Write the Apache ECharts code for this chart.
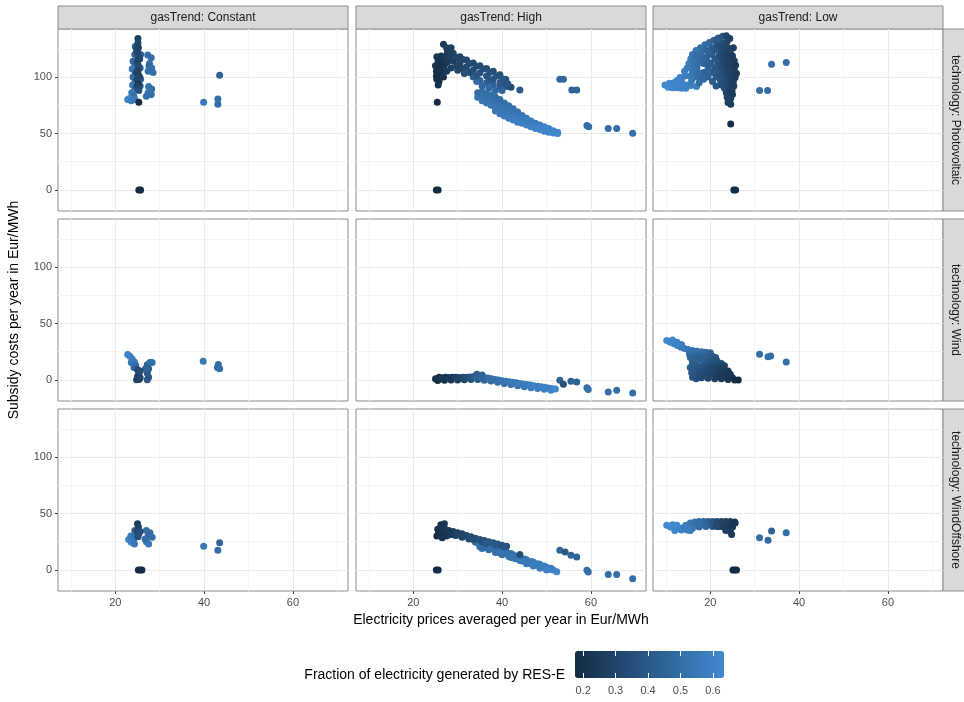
<!DOCTYPE html>
<html><head><meta charset="utf-8">
<script src="https://cdn.jsdelivr.net/npm/echarts@6.0.0/dist/echarts.min.js"></script>
<style>html,body{margin:0;padding:0;background:#fff}#c{width:964px;height:702px}</style>
</head><body><div id="c"></div>
<script>
// facet labels
const gasTrends = ['Constant', 'High', 'Low'];
const technologies = ['Photovoltaic', 'Wind', 'WindOffshore'];
// tick labels
const xTicks = [20, 40, 60];
const yTicks = [0, 50, 100];
const fractionTicks = [0.2, 0.3, 0.4, 0.5, 0.6];
// point = [electricity price, subsidy cost, RES-E fraction]
const pvConstant = [
  [24.5,127,0.4],[25.7,120,0.42],[24.4,120,0.45],[24.0,114,0.5],[24.4,111,0.45],[25.6,108,0.45],[23.8,107,0.55],
  [24.5,104,0.45],[24.0,100,0.5],[25.7,98,0.45],[24.5,96,0.45],[23.9,93,0.55],[25.6,92,0.4],[24.4,89,0.5],
  [23.7,86,0.55],[24.2,83,0.5],[23.2,81,0.6],[22.8,80,0.6],[23.6,79,0.58],[24.4,80,0.55],
  [27.3,119.5,0.5],[28.1,117,0.5],[27.7,112,0.52],[27.6,110,0.48],[28.2,108,0.5],[27.4,105,0.5],[28.5,104,0.5],
  [27.5,91.5,0.52],[28.2,89.5,0.5],[27.4,86,0.52],[28.1,84.5,0.5],[27.0,83,0.5],
  [25.1,134,0.28],[25.1,130,0.3],[25.2,126,0.28],[24.8,124,0.3],[25.0,122,0.3],[25.2,118,0.32],[25.5,116,0.32],
  [25.0,114,0.3],[25.2,110,0.33],[25.1,106,0.3],[24.8,104,0.3],[25.2,102,0.28],[25.5,100,0.3],[25.0,98,0.3],
  [25.2,94,0.25],[24.9,92,0.28],[25.1,90,0.3],[25.3,88,0.35],[25.3,77.6,0.18],
  [25.3,0,0.18],[25.7,0,0.18],
  [39.9,77.6,0.55],[43.5,101.5,0.45],[43.1,80.5,0.5],[43.1,76,0.5]
];
const pvHigh = [
  [34.5,86,0.5],[34.5,82,0.52],[35.5,87,0.5],[35.5,83,0.52],[35.5,79,0.54],[36.5,85,0.5],[36.5,81,0.52],[36.5,77,0.54],
  [37.5,84,0.5],[37.5,79.5,0.52],[37.5,75,0.55],[38.5,82,0.5],[38.5,77.5,0.52],[38.5,73,0.54],[38.5,70,0.56],
  [39.5,80,0.5],[39.5,75.5,0.52],[39.5,71,0.54],[39.5,67.5,0.56],[40.5,77,0.5],[40.5,73,0.52],[40.5,69,0.55],[40.5,65.5,0.57],
  [41.5,74.5,0.52],[41.5,70.5,0.54],[41.5,66.5,0.56],[41.5,63.5,0.57],[42.5,72,0.52],[42.5,68,0.54],[42.5,64.5,0.56],[42.5,62,0.58],
  [43.5,69,0.53],[43.5,65.5,0.55],[43.5,62,0.57],[43.5,60,0.58],[44.5,66,0.54],[44.5,62.5,0.56],[44.5,59,0.58],
  [45.5,63.5,0.55],[45.5,60,0.57],[45.5,57.5,0.59],[46.5,61,0.56],[46.5,58,0.58],[46.5,56,0.6],
  [47.5,59,0.57],[47.5,56,0.59],[47.5,54.5,0.6],[48.5,57.5,0.58],[48.5,55,0.6],[48.5,53.5,0.61],
  [49.5,56,0.59],[49.5,53.5,0.6],[49.5,52,0.62],[50.5,54.5,0.6],[50.5,52,0.61],[50.5,51,0.62],
  [51.5,52.5,0.61],[51.5,50.5,0.62],[52.5,51,0.62],[52.5,50,0.63],
  [33.5,100,0.45],[35,97,0.45],[36.5,95,0.45],[38,93,0.45],[39.5,91.5,0.42],[41,91.5,0.4],
  [34.3,96,0.48],[35.5,92,0.48],[37,90,0.48],[38.5,88,0.48],[40,88,0.46],
  [42.0,91,0.33],[44.0,88.5,0.4],
  [29.8,110,0.29],[31.2,107,0.31],[32.7,104,0.33],[34.2,101,0.38],[37.2,97.5,0.4],[40.5,94.5,0.38],
  [29.0,121,0.3],[30.5,118,0.3],[32,115,0.32],[33.5,112.5,0.33],[35,110,0.33],[36.5,107.5,0.35],[38,105,0.35],
  [39.5,102,0.36],[40.8,98,0.37],[41.3,94,0.38],[29,114,0.28],[30.5,112,0.3],[32,109,0.32],[33.5,106,0.34],
  [35,103.5,0.36],[36.5,101,0.37],[38,98,0.38],[39.5,95,0.4],[28.5,108,0.28],[30,106,0.3],[31.5,103,0.35],
  [29.8,117,0.3],[31.2,115.5,0.31],[32.7,112,0.32],[34.2,109.5,0.33],[35.7,107,0.34],[37.2,104,0.36],[38.7,101,0.37],
  [40,98.5,0.38],[27.7,122,0.27],[28.5,126,0.27],
  [26.8,129,0.25],[27.5,126,0.27],[28.3,123,0.28],[25.3,118,0.22],[26.3,118.5,0.22],[27.3,118,0.25],[28.3,117,0.28],
  [25.6,114,0.2],[26.6,114,0.22],[27.6,113,0.25],
  [25.0,110,0.22],[26.0,110,0.2],[27.0,110.5,0.22],[25.2,105,0.2],[26.3,105.5,0.22],[27.5,105,0.25],
  [25.2,101,0.2],[26.2,101,0.2],[26.8,100,0.22],
  [25.3,98,0.2],[25.8,96,0.2],[25.6,93,0.2],[25.4,77.6,0.18],
  [25.2,0,0.18],[25.6,0,0.18],
  [53.0,98,0.47],[53.8,98,0.47],[55.7,88.5,0.45],[56.8,88.5,0.45],[59.1,57,0.5],[59.5,56,0.5],
  [63.9,54.5,0.5],[65.8,54.5,0.5],[69.4,50.2,0.5]
];
const pvLow = [
  [9.8,93,0.63],[10.8,94.5,0.63],[11.8,95,0.62],[12.8,95,0.62],[13.8,94,0.6],[14.8,93,0.6],[15.6,92.5,0.58],
  [10.5,91,0.63],[11.5,90.5,0.62],[12.5,90.5,0.62],[13.5,90,0.61],[14.5,90,0.6],[16.9,91.5,0.58],
  [12.5,97,0.62],[13.2,99.5,0.6],
  [13.5,98,0.6],[14.3,101,0.58],[14.2,105,0.58],[14.8,108,0.57],[15.2,112,0.56],[15.6,116,0.55],[16.0,120,0.55],
  [16.8,123.5,0.54],[17.8,126,0.52],[18.8,128.5,0.5],[19.8,130.5,0.48],[20.8,132.5,0.45],[21.8,134.5,0.42],
  [22.8,136,0.38],[23.6,136.5,0.3],
  [15.8,97,0.55],[16.8,100,0.52],[16.0,104,0.53],[17.0,108,0.5],[16.5,112,0.52],[17.5,116,0.5],[17.8,120,0.48],
  [18.8,124,0.48],[18.5,112,0.47],[18.5,104,0.47],[19.2,118,0.45],[19.5,108,0.44],[17.5,95,0.5],[18.5,98,0.48],
  [19.5,100,0.45],[20.5,104,0.42],[20.2,112,0.42],[20.4,120,0.42],[20.3,126,0.42],[21.5,129,0.38],
  [20.5,96,0.42],[21.3,92,0.4],
  [17.2,104,0.5],[18,100,0.48],[19,104,0.46],[19.5,113,0.44],[18.3,116,0.47],[19.5,123,0.45],[21,124,0.4],
  [21,116,0.4],[21,108,0.4],[21.3,100,0.4],[16.2,108,0.53],[15.5,101,0.56],[17.2,112,0.5],[16.5,116,0.52],
  [17,119.5,0.5],[22.5,130.5,0.35],[21.5,133,0.4],
  [22.0,127,0.35],[23.0,126.5,0.32],[24.0,126,0.3],[25.2,126,0.28],[24.4,134,0.28],[23.8,131.5,0.3],
  [22.5,123,0.33],[23.5,122.5,0.3],[24.5,122,0.28],
  [22.0,119,0.35],[23.0,119,0.3],[24.0,119,0.28],[25.0,118.5,0.25],
  [22.5,115,0.34],[23.5,115,0.3],[24.5,114.5,0.28],[25.4,114.5,0.26],
  [21.8,112,0.38],[22.8,111.5,0.32],[23.8,111,0.28],[25.0,111,0.27],[25.7,110.5,0.25],
  [22.5,107.5,0.34],[23.5,107,0.3],[24.5,107,0.28],[25.4,106.5,0.26],
  [22.0,104,0.38],[23.0,103.5,0.33],[24.0,103,0.3],[25.0,103,0.28],[25.9,103,0.25],
  [22.7,100,0.35],[23.7,99.5,0.31],[24.7,99.5,0.28],[25.6,99.5,0.26],
  [22.3,97,0.38],[23.3,96.5,0.33],[24.3,96,0.3],[25.2,96,0.27],
  [22.5,93,0.36],[23.7,93,0.32],[24.6,92.5,0.28],[25.3,92,0.26],
  [23.2,90,0.35],[24.2,89,0.3],[24.9,88,0.27],[23.6,86,0.3],[24.3,85,0.28],[25,84.5,0.26],
  [23.8,82,0.3],[24.6,81,0.27],[24.0,77.5,0.28],[24.6,76,0.26],
  [24.6,58.5,0.2],[25.3,0,0.18],[25.7,0,0.18],
  [33.8,111.2,0.5],[37.1,112.9,0.5],[31.1,88,0.5],[32.9,88,0.5]
];
const windConstant = [
  [22.8,22.5,0.6],[23.3,21,0.6],[23.8,18.5,0.58],[24.3,16,0.55],[23.6,15.5,0.55],[24.6,13,0.5],[24.2,11,0.48],
  [27.2,13.5,0.45],[27.8,15.5,0.5],[28.3,15.5,0.5],[27.5,10,0.42],[27.2,6,0.4],[27.5,2.5,0.4],[27.2,0.3,0.38],[26.8,10,0.45],
  [25.0,9,0.32],[25.3,6,0.3],[25.0,3,0.28],[25.3,0.5,0.25],[24.8,0.3,0.28],[25.6,2,0.3],[25.6,8,0.35],
  [39.8,16.5,0.55],[43.2,13.8,0.5],[43.5,10,0.5],[43.0,11,0.5]
];
const windHigh = [
  [25.5,-0.5,0.18],[27.0,-0.3,0.2],[28.5,0,0.22],[30,0,0.25],[31.5,0.2,0.3],[33,0.5,0.35],[34.5,0.5,0.4],[36,-0.3,0.45],
  [37.5,-1,0.48],[39,-2,0.5],[40.5,-3,0.5],[42,-4,0.52],[43.5,-5,0.54],[45,-6,0.56],[46.5,-6.8,0.57],[48,-7.5,0.58],
  [49.5,-8.2,0.59],[51,-9,0.6],
  [25.0,1,0.2],[25.8,2.5,0.2],[26.5,2,0.22],[27.3,2.5,0.22],[28.0,2.3,0.24],[28.8,2.5,0.25],[29.6,2.5,0.27],[30.4,2.3,0.3],
  [31.2,2.5,0.32],[32.0,2.4,0.35],[32.8,2.6,0.38],[33.6,3.0,0.42],[34.4,3.2,0.45],[35.2,2.6,0.47],[36.0,2.0,0.48],
  [36.8,1.8,0.5],[37.6,1.2,0.5],[38.4,0.5,0.5],[39.2,0,0.52],[40.0,-0.6,0.52],[40.8,-1.1,0.53],[41.6,-1.6,0.54],
  [42.4,-2.0,0.55],[43.2,-2.5,0.55],[44.0,-3.0,0.56],[44.8,-3.5,0.56],[45.6,-4.0,0.57],[46.4,-4.5,0.58],[47.2,-5.0,0.58],
  [48.0,-5.5,0.59],[48.8,-6.0,0.6],[49.6,-6.5,0.6],[50.4,-7.0,0.6],[51.2,-7.5,0.61],[52.0,-8.0,0.62],
  [34.3,5,0.42],[35.5,4.5,0.45],
  [53.0,-0.3,0.45],[53.8,-3.8,0.35],[55.5,-1.2,0.45],[56.8,-1.8,0.45],[59.1,-6.8,0.5],[59.4,-8.5,0.5],
  [63.9,-10.6,0.5],[65.8,-9.1,0.5],[69.4,-11.5,0.5]
];
const windLow = [
  [10.2,35,0.63],[11.0,33.5,0.62],[11.8,32,0.62],[12.6,30.5,0.6],[13.4,29,0.58],[14.2,27.8,0.56],[15,27,0.55],[16,26,0.52],
  [17,25.5,0.5],[18,25,0.5],[19,24.5,0.48],[20,24,0.45],[11.5,35.5,0.62],[12.5,33.5,0.6],[13.5,31.5,0.58],
  [15.3,23,0.5],[16.5,22,0.48],[17.5,21.5,0.46],[18.5,21,0.45],[19.5,20.5,0.43],[20.5,21,0.4],[21.2,20,0.38],
  [15.5,20,0.47],[16.5,19.5,0.45],[17.5,18.5,0.43],
  [16,18,0.45],[17,16.5,0.44],[18.5,17,0.42],[19.5,17,0.4],[20.5,16.5,0.38],[21.5,17,0.36],[22.5,14.5,0.33],[23.2,12.5,0.3],
  [16,15.5,0.44],[18.5,14,0.4],[19.5,13.5,0.38],[20.5,13.5,0.36],[21.5,13.5,0.33],[22.5,12,0.3],
  [16,13.5,0.42],[17,12,0.4],[18,11.5,0.38],[19,11,0.36],[20,11,0.33],[21,11,0.3],[22,10.5,0.28],[23,9.5,0.27],[24,8,0.25],
  [15.5,11,0.42],[15.8,6.5,0.4],[16,2.5,0.38],
  [17,9,0.38],[18,8,0.36],[19,8.5,0.34],[20,8.5,0.32],[21,8,0.3],[22,8,0.28],[23,7,0.26],
  [16,9,0.4],[16.5,5,0.38],[16.8,1,0.36],[17.5,6,0.35],[18,2,0.33],[19,6,0.32],[19.5,1.5,0.3],[20.5,6,0.3],[21,1,0.28],
  [17.5,3.5,0.34],[18.8,3.5,0.32],[20,3.5,0.3],[21.5,3.5,0.27],[23,2.5,0.24],[24.5,2.5,0.22],
  [22,5,0.26],[22.5,1,0.25],[23.5,4,0.24],[24,0.5,0.22],[25,2,0.22],[25.5,0,0.2],[26.3,0,0.18],[24.5,5,0.23],
  [31.1,22.7,0.5],[33.0,20.5,0.5],[33.6,21.2,0.5],[37.1,15.9,0.5]
];
const offshoreConstant = [
  [23.0,27,0.6],[23.6,24.5,0.6],[24.2,27.5,0.55],[23.5,30,0.55],[24.3,23,0.55],[24.6,31.5,0.5],[24.4,35,0.45],
  [27.0,35,0.5],[27.8,33,0.5],[27.4,30,0.48],[28.3,29,0.5],[27.0,25,0.55],[27.5,23,0.55],[26.7,27.5,0.5],
  [25.0,41,0.25],[25.2,38,0.28],[25.0,35,0.3],[25.3,32,0.32],[25.6,34,0.35],[25.1,29.5,0.35],
  [25.2,0,0.18],[25.7,0,0.18],[26.0,0,0.18],
  [39.9,21,0.55],[43.5,24,0.45],[43.1,17.4,0.5]
];
const offshoreHigh = [
  [34,24.5,0.48],[35,22,0.48],[35.5,19,0.5],[36.5,22,0.48],[37,18,0.5],[38,20,0.48],[38.5,15.5,0.52],[39.5,18,0.5],
  [40,13.5,0.52],[41,16,0.5],[41.5,12,0.53],[42.5,13.5,0.52],[43,10,0.54],[44,11,0.53],[44.5,8,0.55],[45.5,9,0.55],
  [46,6,0.56],[47,7,0.56],[47.5,4.5,0.57],[48.5,5,0.57],[49,2.5,0.58],[50,2.5,0.58],[50.5,0.5,0.59],[51.5,0,0.6],[52.3,-1.5,0.61],
  [35,20.5,0.5],[36,20,0.48],[37.5,19,0.5],[38.5,18,0.5],[39.5,15,0.52],[40.5,15,0.52],[42,14.5,0.51],[42,11,0.53],
  [43.5,12,0.53],[45,9.8,0.55],[46.5,7.5,0.56],[48,5.5,0.57],[49.5,3.5,0.58],[51,1.5,0.59],[44,8.5,0.55],[45.5,5.5,0.56],
  [47,3.5,0.57],[48.5,1.5,0.58],[50,0,0.6],
  [29,34,0.27],[30,33,0.28],[31,32,0.3],[32,30.5,0.32],[33,29.5,0.33],[34,28,0.34],[35,27,0.36],[36,26,0.37],[37,25,0.38],
  [38,24,0.38],[39,23,0.37],[40,22,0.36],[41,21,0.35],[29.5,30.5,0.28],[31,29,0.3],[32.5,27.5,0.33],[44,13.8,0.35],
  [30,31,0.29],[33.5,27,0.34],[35.5,25,0.36],[36.5,23.5,0.4],[38.5,22,0.4],[40.5,20.5,0.38],
  [25.5,36,0.22],[26.2,40,0.22],[26.0,32,0.2],[27.0,37,0.22],[27.2,33,0.22],[25.3,30,0.2],[28,35,0.24],[26.5,28.5,0.22],
  [27.5,30,0.22],[28.5,31.5,0.25],[25.7,33.5,0.2],[27,41,0.22],
  [25.2,0,0.18],[25.6,0,0.18],
  [53.0,17.4,0.45],[54.2,15.9,0.4],[55.5,13,0.45],[56.8,11.5,0.45],[59.1,-0.3,0.5],[59.4,-1.8,0.5],
  [63.9,-4.1,0.5],[65.8,-4.1,0.5],[69.4,-7.7,0.5]
];
const offshoreLow = [
  [10.2,39.5,0.63],[11,38,0.63],[12,37.5,0.62],[13,37,0.6],[14,37.5,0.58],[15,38.5,0.56],[16,40.5,0.52],[16,37,0.55],
  [15.5,35,0.55],[13.5,35.5,0.6],[17,41,0.5],[17.5,38,0.5],[18,41,0.48],[19,41.5,0.45],[19,38.5,0.46],[20,41.5,0.4],
  [11.5,40,0.63],[12.5,39.5,0.62],[14.5,39.5,0.58],[15.5,41.5,0.55],[16.5,42.5,0.52],[17.5,43,0.5],[18.5,43,0.48],
  [19.5,43,0.44],[17.5,39.5,0.5],[12,35,0.62],[14.8,35.3,0.58],
  [20.5,38.5,0.38],[21,41.5,0.32],[22,41.5,0.3],[22,38.5,0.3],[23,41.5,0.28],[23,38,0.27],[24,41,0.26],[24,37.5,0.26],
  [20.5,43,0.38],[21.5,43,0.32],[22.5,43,0.3],[23.5,43,0.28],[24.5,43,0.26],[25.5,42.5,0.24],[21.5,38.5,0.32],
  [25,41,0.25],[25,38,0.24],[24.5,34,0.25],[24.8,31.5,0.24],[23.5,35,0.27],[25.6,41.5,0.23],
  [25.1,0,0.18],[25.5,0,0.18],[25.9,0,0.18],
  [31.1,28.6,0.5],[33.0,26.3,0.48],[33.8,34.5,0.45],[37.1,33,0.5]
];
const panelData = [
  [pvConstant, pvHigh, pvLow],
  [windConstant, windHigh, windLow],
  [offshoreConstant, offshoreHigh, offshoreLow]
];

const FONT = '"Liberation Sans", Arial, sans-serif';
const colLeft = [58, 356, 653], rowTop = [29, 219, 409], W = 290, H = 182;
const xMin = 7.1, xMax = 72.4, yMin = -18.6, yMax = 142.5;
const grids = [], xAxes = [], yAxes = [], series = [], graphics = [];
for (let r = 0; r < 3; r++) {
  for (let c = 0; c < 3; c++) {
    const i = r * 3 + c;
    grids.push({ left: colLeft[c], top: rowTop[r], width: W, height: H, show: true,
      borderColor: '#8c8c8c', borderWidth: 1, backgroundColor: '#fff' });
    xAxes.push({ gridIndex: i, type: 'value', position: 'bottom', min: xMin, max: xMax, splitNumber: 3,
      axisLine: { show: false, onZero: false },
      axisTick: { show: r === 2, length: 3, customValues: xTicks, lineStyle: { color: '#444' } },
      axisLabel: { show: r === 2, customValues: xTicks,
        color: '#4d4d4d', fontSize: 11, margin: 6, fontFamily: FONT },
      splitLine: { show: true, lineStyle: { color: '#EAEAEA', width: 1 } },
      minorTick: { show: false, splitNumber: 2 },
      minorSplitLine: { show: true, lineStyle: { color: '#F4F4F4', width: 1 } } });
    yAxes.push({ gridIndex: i, type: 'value', position: 'left', min: yMin, max: yMax, splitNumber: 3,
      axisLine: { show: false, onZero: false },
      axisTick: { show: c === 0, length: 3, customValues: yTicks, lineStyle: { color: '#444' } },
      axisLabel: { show: c === 0, customValues: yTicks,
        color: '#4d4d4d', fontSize: 11, margin: 6, fontFamily: FONT },
      splitLine: { show: true, lineStyle: { color: '#EAEAEA', width: 1 } },
      minorTick: { show: false, splitNumber: 2 },
      minorSplitLine: { show: true, lineStyle: { color: '#F4F4F4', width: 1 } } });
    series.push({ type: 'scatter', xAxisIndex: i, yAxisIndex: i, symbolSize: 7,
      data: panelData[r][c], silent: true, animation: false, itemStyle: { opacity: 1 } });
  }
}
// colour bar tick axis
grids.push({ left: 575, top: 651, width: 149, height: 27, show: false });
xAxes.push({ gridIndex: 9, type: 'value', min: 0.175, max: 0.634, position: 'bottom', z: 10,
  axisLine: { show: false, onZero: false },
  axisTick: { show: true, inside: true, length: 5, customValues: fractionTicks, lineStyle: { color: '#fff', width: 1 } },
  axisLabel: { show: true, customValues: fractionTicks,
    color: '#4d4d4d', fontSize: 11, margin: 7, fontFamily: FONT, formatter: v => v.toFixed(1) },
  splitLine: { show: false } });
xAxes.push({ gridIndex: 9, type: 'value', min: 0.175, max: 0.634, position: 'top', z: 10,
  axisLine: { show: false, onZero: false },
  axisTick: { show: true, inside: true, length: 5, customValues: fractionTicks, lineStyle: { color: '#fff', width: 1 } },
  axisLabel: { show: false }, splitLine: { show: false } });
yAxes.push({ gridIndex: 9, type: 'value', show: false, min: 0, max: 1 });

// strips
for (let c = 0; c < 3; c++) {
  graphics.push({ type: 'rect', shape: { x: colLeft[c], y: 6, width: W, height: 23 },
    style: { fill: '#D9D9D9', stroke: '#8c8c8c', lineWidth: 1 }, silent: true });
  graphics.push({ type: 'text', x: colLeft[c] + W / 2, y: 17.5,
    style: { text: 'gasTrend: ' + gasTrends[c], fill: '#1a1a1a', font: '12px ' + FONT,
      textAlign: 'center', textVerticalAlign: 'middle' }, silent: true });
}
for (let r = 0; r < 3; r++) {
  graphics.push({ type: 'rect', shape: { x: 943, y: rowTop[r], width: 30, height: H },
    style: { fill: '#D9D9D9', stroke: '#8c8c8c', lineWidth: 1 }, silent: true });
  graphics.push({ type: 'text', x: 955, y: rowTop[r] + H / 2, rotation: -Math.PI / 2,
    style: { text: 'technology: ' + technologies[r], fill: '#1a1a1a', font: '12px ' + FONT,
      textAlign: 'center', textVerticalAlign: 'middle' }, silent: true });
}
graphics.push({ type: 'text', x: 501, y: 620,
  style: { text: 'Electricity prices averaged per year in Eur/MWh', fill: '#000', font: '14px ' + FONT,
    textAlign: 'center', textVerticalAlign: 'middle' }, silent: true });
graphics.push({ type: 'text', x: 14, y: 310, rotation: Math.PI / 2,
  style: { text: 'Subsidy costs per year in Eur/MWh', fill: '#000', font: '14px ' + FONT,
    textAlign: 'center', textVerticalAlign: 'middle' }, silent: true });
graphics.push({ type: 'text', x: 565, y: 675,
  style: { text: 'Fraction of electricity generated by RES-E', fill: '#000', font: '14px ' + FONT,
    textAlign: 'right', textVerticalAlign: 'middle' }, silent: true });

const chart = echarts.init(document.getElementById('c'), null, { renderer: 'canvas' });
chart.setOption({
  backgroundColor: '#fff',
  animation: false,
  grid: grids, xAxis: xAxes, yAxis: yAxes, series: series,
  visualMap: { type: 'continuous', min: 0.175, max: 0.634, dimension: 2,
    seriesIndex: [0,1,2,3,4,5,6,7,8], orient: 'horizontal', left: 575, top: 651, padding: 0,
    itemWidth: 27, itemHeight: 149, calculable: false, hoverLink: false,
    inRange: { color: ['#132B43', '#4189D0'] } },
  graphic: graphics
});
</script></body></html>
